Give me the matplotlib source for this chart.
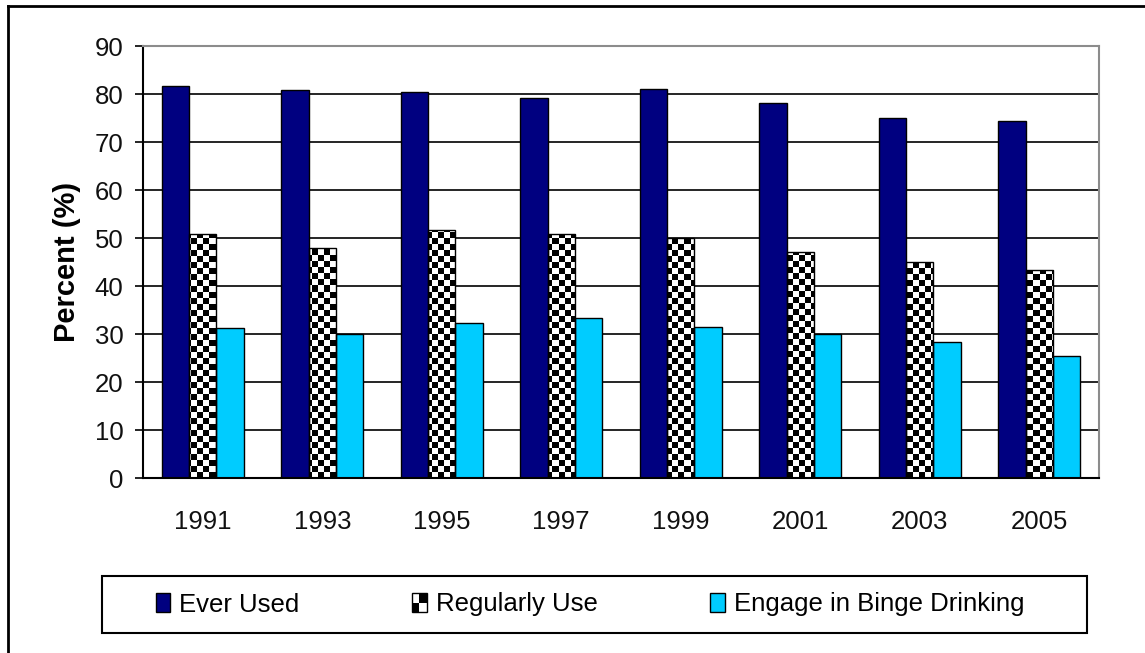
import matplotlib
matplotlib.use("Agg")
import matplotlib.pyplot as plt
import numpy as np
from matplotlib.patches import Rectangle
from matplotlib.legend_handler import HandlerBase
from matplotlib.lines import Line2D

plt.rcParams['font.family'] = ['Liberation Sans', 'DejaVu Sans']

years = ['1991', '1993', '1995', '1997', '1999', '2001', '2003', '2005']
ever_used = [81.6, 80.9, 80.4, 79.1, 81.0, 78.2, 74.9, 74.3]
regularly = [50.8, 48.0, 51.6, 50.8, 50.0, 47.1, 44.9, 43.3]
binge = [31.3, 30.0, 32.3, 33.4, 31.5, 29.9, 28.3, 25.5]
labels = ['Ever Used', 'Regularly Use', 'Engage in Binge Drinking']

W, H = 1145, 653


class CheckerHandler(HandlerBase):
    # 2x2 checker square for the legend
    def create_artists(self, legend, orig_handle, xdescent, ydescent,
                       width, height, fontsize, trans):
        x0, y0 = -xdescent, -ydescent
        w2, h2 = width / 2, height / 2
        bg = Rectangle((x0, y0), width, height, facecolor='white',
                       edgecolor='none', transform=trans)
        a = Rectangle((x0 + w2, y0 + h2), w2, h2, facecolor='black',
                      edgecolor='none', transform=trans)
        b = Rectangle((x0, y0), w2, h2, facecolor='black',
                      edgecolor='none', transform=trans)
        edge = Rectangle((x0, y0), width, height, facecolor='none',
                         edgecolor='black', lw=1, transform=trans)
        return [bg, a, b, edge]


fig = plt.figure(figsize=(W / 100, H / 100), dpi=100)
ax = fig.add_axes([143 / W, 1 - 478 / H, 956 / W, 432 / H])

x = np.arange(len(years))
w = 0.23
ax.bar(x - w, ever_used, w, color='#000080', edgecolor='black', lw=1, zorder=2)
reg_bars = ax.bar(x, regularly, w, facecolor='none', edgecolor='black', lw=1, zorder=3)
ax.bar(x + w, binge, w, color='#00CCFF', edgecolor='black', lw=1, zorder=2)

# checkerboard fill for the "Regularly Use" bars
checker = np.indices((72, 159)).sum(axis=0) % 2
for b in reg_bars:
    im = ax.imshow(checker, cmap='gray', extent=(-0.5, 7.5, 0, 90),
                   aspect='auto', interpolation='nearest', zorder=1.5)
    im.set_clip_path(b)

ax.set_xlim(-0.5, 7.5)
ax.set_ylim(0, 90)
ax.set_yticks(range(0, 91, 10))
ax.set_xticks(x)
ax.set_xticklabels(years)
ax.yaxis.grid(True, color='black', lw=1.2)
ax.set_axisbelow(True)

for s in ['top', 'right']:
    ax.spines[s].set_color('#8c8c8c')
    ax.spines[s].set_linewidth(1.5)
for s in ['left', 'bottom']:
    ax.spines[s].set_color('black')
    ax.spines[s].set_linewidth(1.5)

ax.tick_params(axis='x', length=0, pad=23, labelsize=18.5, colors='#111111')
ax.tick_params(axis='y', length=6, width=1.2, direction='out', pad=8,
               labelsize=18.5, colors='#111111')
ax.tick_params(axis='both', color='black')

fig.text(67 / W, 1 - 262 / H, 'Percent (%)', rotation=90, ha='center',
         va='center', fontsize=21, fontweight='bold')

# legend
checker_proxy = Rectangle((0, 0), 1, 1)
handles = [Rectangle((0, 0), 1, 1, facecolor='#000080', edgecolor='black', lw=1),
           checker_proxy,
           Rectangle((0, 0), 1, 1, facecolor='#00CCFF', edgecolor='black', lw=1)]
fig.legend(handles=handles, labels=labels, loc='center left',
           bbox_to_anchor=(156 / W, 1 - 604.5 / H), ncol=3, frameon=False,
           fontsize=18.5, handlelength=0.55, handleheight=0.75,
           handletextpad=0.35, columnspacing=4.4, borderpad=0,
           borderaxespad=0, handler_map={checker_proxy: CheckerHandler()})
fig.add_artist(Rectangle((102 / W, 1 - 633 / H), 985 / W, 57 / H,
                         transform=fig.transFigure, fill=False,
                         edgecolor='black', lw=1.5))

# outer frame (top and left edges only)
fig.add_artist(Line2D([8 / W, 8 / W], [0, 1 - 6 / H], color='black', lw=2,
                      transform=fig.transFigure))
fig.add_artist(Line2D([8 / W, 1], [1 - 6 / H, 1 - 6 / H], color='black', lw=2,
                      transform=fig.transFigure))

fig.savefig('out.png', dpi=100)
